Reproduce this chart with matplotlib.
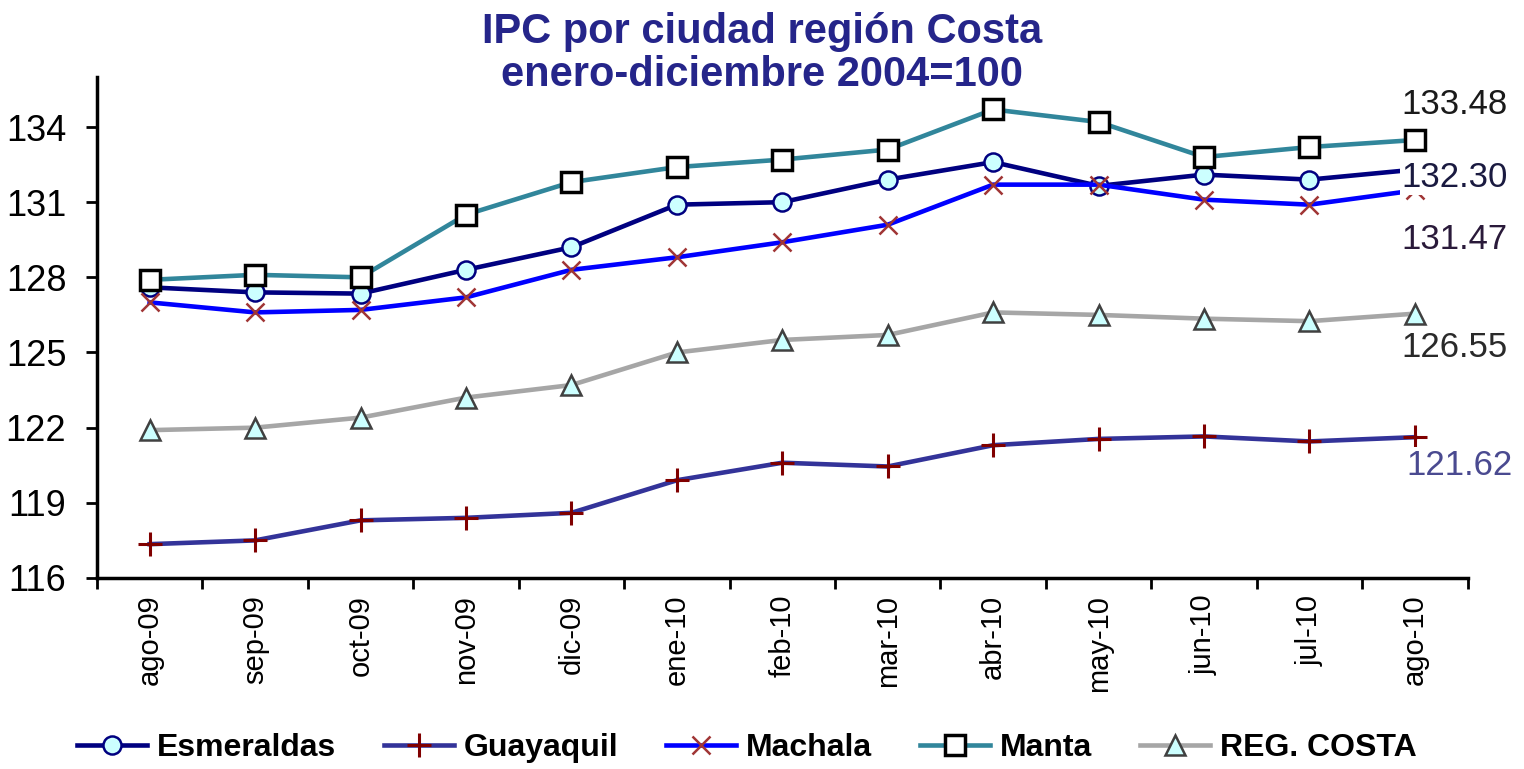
import matplotlib
matplotlib.use("Agg")
import matplotlib.pyplot as plt

plt.rcParams['font.family'] = ['Liberation Sans', 'DejaVu Sans']

## Data
months = ['ago-09', 'sep-09', 'oct-09', 'nov-09', 'dic-09', 'ene-10', 'feb-10',
          'mar-10', 'abr-10', 'may-10', 'jun-10', 'jul-10', 'ago-10']
esmeraldas = [127.6, 127.4, 127.35, 128.3, 129.2, 130.9, 131.0, 131.9, 132.6, 131.65, 132.1, 131.9, 132.30]
guayaquil = [117.35, 117.5, 118.3, 118.4, 118.6, 119.9, 120.6, 120.45, 121.3, 121.55, 121.65, 121.45, 121.62]
machala = [127.0, 126.6, 126.7, 127.2, 128.3, 128.8, 129.4, 130.1, 131.7, 131.7, 131.1, 130.9, 131.47]
manta = [127.9, 128.1, 128.0, 130.5, 131.8, 132.4, 132.7, 133.1, 134.7, 134.2, 132.8, 133.2, 133.48]
reg_costa = [121.9, 122.0, 122.4, 123.2, 123.7, 125.0, 125.5, 125.7, 126.6, 126.5, 126.35, 126.25, 126.55]
yticks = [116, 119, 122, 125, 128, 131, 134]

x = list(range(len(months)))

fig = plt.figure(figsize=(15.24, 7.69), dpi=100)
ax = fig.add_axes([0.0636, 0.2484, 0.8994, 0.6516])

ax.plot(x, esmeraldas, color='#000080', lw=3.3, marker='o', ms=13,
        mfc='#CCFFFF', mec='#000080', mew=1.8, label='Esmeraldas')
ax.plot(x, guayaquil, color='#333399', lw=3.3, marker='+', ms=17,
        mec='#800000', mew=2.2, label='Guayaquil')
ax.plot(x, machala, color='#0000FF', lw=3.3, marker='x', ms=13,
        mec='#A03535', mew=1.8, label='Machala')
ax.plot(x, manta, color='#31869B', lw=3.3, marker='s', ms=15,
        mfc='white', mec='black', mew=2.5, label='Manta')
ax.plot(x, reg_costa, color='#A6A6A6', lw=3.3, marker='^', ms=14,
        mfc='#CCFFFF', mec='#404040', mew=1.8, label='REG. COSTA')

# end-of-series value labels (white box hides part of the last markers)
last = len(months) - 1
labels = [(manta[last], (-14, 36), '#1a1a1a'),
          (esmeraldas[last], (-14, -8), '#1a1a40'),
          (machala[last], (-14, -49), '#2a1a3a'),
          (reg_costa[last], (-14, -34), '#2a2a2a'),
          (guayaquil[last], (-9, -28), '#4a4a90')]
for val, off, col in labels:
    ax.annotate('%.2f' % val, xy=(last, val), xytext=off, textcoords='offset pixels',
                ha='left', va='center', fontsize=25, color=col, zorder=10,
                bbox=dict(facecolor='white', edgecolor='none', pad=1), annotation_clip=False)

ax.set_xlim(-0.5, 12.5)
ax.set_ylim(116, 136)
ax.set_yticks(yticks)
ax.set_yticklabels([str(t) for t in yticks], fontsize=26)

# category labels centred, tick marks on the boundaries
ax.set_xticks(x)
ax.set_xticklabels(months, rotation=90, fontsize=21)
ax.set_xticks([i - 0.5 for i in range(len(months) + 1)], minor=True)
ax.tick_params(axis='x', which='major', length=0, pad=12)
ax.tick_params(axis='x', which='minor', length=8, width=2)
ax.tick_params(axis='y', length=8, width=2, pad=14)

for side in ['top', 'right']:
    ax.spines[side].set_visible(False)
for side in ['left', 'bottom']:
    ax.spines[side].set_linewidth(2.5)

fig.text(0.5, 0.985, 'IPC por ciudad región Costa\nenero-diciembre 2004=100',
         ha='center', va='top', fontsize=30, fontweight='bold', color='#25258A',
         linespacing=1.1)

leg = fig.legend(loc='lower center', bbox_to_anchor=(0.49, -0.03), ncol=5,
                 frameon=False, prop={'size': 23, 'weight': 'bold'},
                 handlelength=2.2, columnspacing=1.5, handletextpad=0.3)

fig.savefig('out.png', dpi=100)
